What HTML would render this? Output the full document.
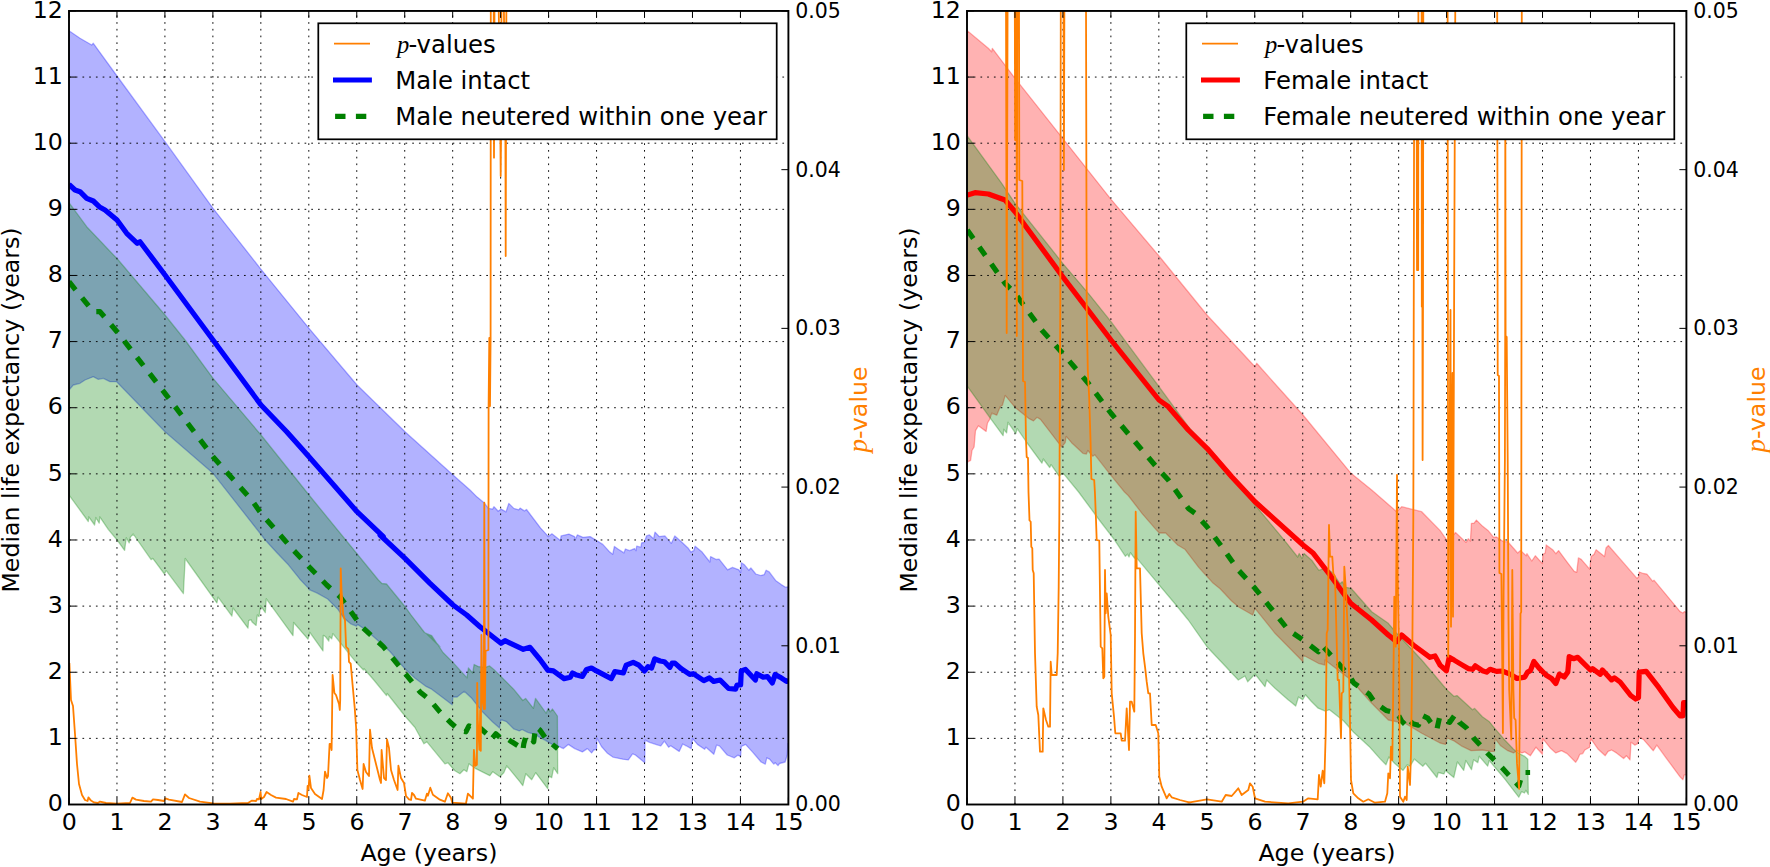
<!DOCTYPE html>
<html lang="en"><head><meta charset="utf-8"><title>Median life expectancy by age</title>
<style>
html,body{margin:0;padding:0;background:#fff;}
body{width:1770px;height:867px;overflow:hidden;}
svg{display:block;}
svg text{font-family:"DejaVu Sans","Liberation Sans",sans-serif;}
</style></head><body>
<svg width="1770" height="867" viewBox="0 0 1770 867" font-size="23.7" fill="#000">
<rect width="1770" height="867" fill="#fff"/>
<clipPath id="c1"><rect x="69.0" y="10.95" width="719.4" height="793.55"/></clipPath>
<g clip-path="url(#c1)">
<path d="M69.0,30.7 L80.0,38.3 L91.7,45.0 L93.3,43.3 L117.0,76.0 L165.0,141.7 L213.0,208.3 L261.0,269.3 L309.0,328.3 L357.0,385.0 L405.0,431.7 L453.0,475.0 L470.0,490.0 L477.1,497.1 L484.1,502.7 L488.4,508.4 L492.6,509.1 L494.0,506.7 L498.2,511.2 L501.1,509.1 L506.0,511.9 L508.8,503.4 L513.8,508.4 L518.7,509.8 L520.1,508.1 L524.4,510.9 L526.5,509.5 L540.6,528.1 L548.4,536.6 L551.9,533.8 L560.4,540.6 L561.1,535.9 L568.9,534.1 L574.5,536.6 L575.2,539.4 L577.3,534.9 L583.0,537.3 L590.1,536.6 L597.1,540.9 L602.8,544.4 L609.8,552.1 L612.7,554.3 L614.4,546.5 L618.3,549.3 L624.0,552.9 L625.4,549.0 L629.6,550.7 L634.5,548.6 L636.0,550.7 L636.7,546.2 L640.9,547.2 L641.6,543.0 L644.4,542.3 L646.5,535.9 L649.4,534.9 L653.6,538.7 L655.0,532.1 L659.3,536.6 L664.9,535.9 L671.3,543.4 L674.8,535.9 L681.9,542.3 L688.0,547.9 L690.9,552.1 L693.7,550.7 L695.1,546.2 L702.1,552.1 L709.9,562.0 L710.6,556.7 L716.3,559.5 L719.1,559.2 L727.6,569.8 L732.5,567.4 L738.9,569.8 L740.6,572.6 L741.4,562.7 L744.5,564.9 L748.8,570.2 L750.9,568.0 L755.8,574.0 L760.8,575.5 L764.3,574.5 L766.1,570.2 L769.2,571.9 L775.6,580.4 L781.2,584.6 L785.5,587.2 L789.7,586.8 L790.8,743.7 L787.9,743.7 L787.2,755.0 L785.1,762.0 L779.5,763.5 L778.0,765.6 L775.2,762.7 L773.8,764.1 L769.6,759.2 L766.8,757.8 L765.3,764.1 L761.1,762.0 L752.6,752.1 L745.6,744.4 L741.3,746.5 L740.6,756.4 L737.8,755.2 L734.3,757.8 L727.2,755.0 L719.4,745.8 L716.6,745.1 L713.8,754.3 L706.0,747.2 L704.6,749.3 L697.5,744.4 L692.6,738.7 L691.2,748.6 L686.2,745.8 L682.7,744.0 L679.2,751.4 L670.7,745.8 L668.6,747.2 L664.4,741.1 L660.8,745.8 L658.0,745.1 L649.5,742.3 L645.0,740.1 L644.7,762.7 L643.9,762.0 L635.4,755.0 L632.6,753.8 L628.3,759.9 L622.7,759.2 L612.8,757.1 L607.1,752.9 L601.5,746.5 L596.8,738.0 L596.5,749.3 L593.7,750.0 L591.6,752.9 L587.4,748.6 L582.4,751.9 L574.7,748.6 L568.3,744.4 L563.4,748.6 L557.7,745.8 L552.1,744.4 L545.0,740.1 L541.9,738.6 L534.8,734.4 L527.7,732.3 L522.1,729.5 L519.3,730.9 L513.6,728.8 L506.6,721.7 L500.9,719.6 L499.5,728.0 L492.4,721.7 L482.5,711.8 L471.2,697.7 L464.2,691.3 L457.1,697.0 L452.9,697.0 L452.2,704.8 L443.0,697.7 L431.7,689.2 L426.1,686.4 L414.8,677.9 L404.9,668.8 L389.9,651.5 L378.4,641.1 L366.9,630.8 L357.6,624.4 L356.5,626.1 L350.7,623.8 L343.8,618.1 L338.0,609.4 L327.7,599.0 L317.2,593.1 L309.2,589.6 L308.6,588.4 L299.9,579.2 L288.4,564.8 L276.9,552.7 L265.3,540.0 L213.0,473.3 L165.0,431.7 L116.7,381.7 L110.0,381.7 L103.3,378.3 L98.3,379.3 L93.3,376.7 L85.0,380.0 L80.0,383.3 L73.3,385.0 L69.0,390.0Z" fill="#0000ff" fill-opacity="0.3" stroke="#0000ff" stroke-opacity="0.3" stroke-width="1.3" stroke-linejoin="round"/>
<path d="M69.0,202.7 L86.7,226.7 L118.3,260.0 L165.0,315.0 L185.0,340.0 L213.0,378.3 L261.0,435.0 L309.0,495.0 L378.4,580.0 L381.9,583.5 L386.5,584.0 L404.9,606.5 L410.7,614.6 L424.5,632.5 L430.3,635.4 L440.0,646.9 L426.1,633.4 L431.7,635.5 L443.0,652.5 L452.9,662.4 L467.0,677.9 L468.4,668.0 L472.7,673.0 L474.1,664.5 L478.3,666.6 L485.4,667.3 L489.6,665.9 L493.8,669.4 L500.9,676.5 L513.6,689.2 L522.8,700.5 L525.6,698.4 L533.4,708.3 L535.5,698.4 L546.1,713.2 L548.2,708.3 L550.3,711.8 L552.5,709.0 L557.4,716.0 L557.7,773.7 L553.7,767.7 L551.7,777.7 L548.7,775.7 L547.7,788.7 L535.7,772.7 L531.7,779.7 L525.8,773.7 L522.8,785.7 L519.8,781.7 L506.8,765.8 L503.8,772.7 L499.8,776.7 L492.8,771.7 L489.8,775.7 L483.8,772.7 L475.9,768.7 L468.9,763.8 L466.9,771.7 L463.9,769.7 L459.9,773.7 L454.9,770.7 L447.9,762.8 L444.9,763.8 L426.9,741.8 L423.9,743.8 L414.8,727.3 L404.9,716.0 L387.2,693.5 L386.5,695.6 L373.8,680.0 L364.0,668.8 L363.4,670.0 L355.3,661.3 L332.9,633.6 L331.7,638.8 L329.4,636.5 L328.8,641.1 L325.4,636.5 L323.3,635.4 L323.0,650.9 L309.8,632.3 L308.0,639.2 L293.6,622.5 L293.0,635.7 L266.3,598.8 L265.3,612.7 L260.7,605.7 L259.0,616.7 L257.3,615.0 L256.1,625.4 L252.1,621.9 L250.9,619.6 L248.6,620.7 L248.0,628.2 L233.0,608.0 L231.9,616.1 L218.1,597.1 L216.9,602.9 L185.2,558.5 L183.4,593.6 L166.2,570.6 L164.4,574.0 L152.8,558.4 L151.1,559.6 L133.2,534.0 L130.4,537.1 L129.2,542.9 L126.3,537.7 L124.6,550.4 L117.1,540.0 L108.4,529.6 L99.8,516.9 L99.2,523.2 L95.8,517.5 L94.6,525.0 L88.8,516.9 L88.3,521.5 L69.8,496.1 L69.0,495.0Z" fill="#008000" fill-opacity="0.3" stroke="#008000" stroke-opacity="0.3" stroke-width="1.3" stroke-linejoin="round"/>
<path d="M116.96,804.5V10.95M164.92,804.5V10.95M212.88,804.5V10.95M260.84,804.5V10.95M308.8,804.5V10.95M356.76,804.5V10.95M404.72,804.5V10.95M452.68,804.5V10.95M500.64,804.5V10.95M548.6,804.5V10.95M596.56,804.5V10.95M644.52,804.5V10.95M692.48,804.5V10.95M740.44,804.5V10.95M69.0,738.37H788.40M69.0,672.24H788.40M69.0,606.11H788.40M69.0,539.98H788.40M69.0,473.85H788.40M69.0,407.72H788.40M69.0,341.59H788.40M69.0,275.46H788.40M69.0,209.33H788.40M69.0,143.20H788.40M69.0,77.07H788.40" fill="none" stroke="#000" stroke-width="0.95" stroke-dasharray="1.7 5.03"/>
<path d="M69.0,184.3 L75.0,190.0 L80.0,191.7 L86.7,198.3 L93.3,201.0 L100.0,207.3 L105.0,210.0 L117.0,220.0 L126.7,233.3 L137.3,243.3 L140.0,241.7 L165.0,275.0 L213.0,340.0 L261.0,405.0 L286.7,431.7 L309.0,456.7 L357.0,511.7 L383.3,536.7 L380.0,535.0 L405.0,558.3 L430.0,583.3 L453.0,605.0 L466.7,615.0 L480.0,626.7 L501.0,643.3 L505.0,640.7 L523.3,649.3 L530.0,647.3 L540.0,659.5 L547.8,670.1 L553.4,670.9 L564.0,678.6 L570.4,677.2 L572.5,673.0 L576.7,675.1 L582.4,676.5 L586.6,669.4 L591.5,668.0 L596.5,670.9 L611.3,678.6 L614.9,671.5 L623.3,673.0 L626.2,665.2 L633.2,662.4 L638.9,665.2 L644.5,670.9 L648.0,666.6 L651.6,668.0 L654.7,658.8 L660.1,661.0 L664.3,661.7 L669.9,667.3 L672.1,663.1 L674.9,663.1 L681.2,668.7 L689.7,674.4 L693.2,673.7 L703.8,680.7 L709.5,677.9 L713.7,681.4 L720.1,680.0 L728.6,688.5 L735.6,689.2 L737.0,685.0 L740.6,685.0 L741.3,670.9 L745.5,669.4 L755.4,680.0 L756.8,673.7 L763.2,677.2 L767.4,676.5 L772.3,682.9 L775.2,674.4 L780.1,677.2 L786.5,681.4 L791.4,680.0" fill="none" stroke="#0000ff" stroke-width="5.2" stroke-linejoin="round"/>
<path d="M69.0,281.7 L93.3,311.7 L100.0,311.7 L117.0,331.7 L165.0,393.3 L213.0,456.7 L251.7,500.0 L261.0,513.3 L293.3,550.0 L309.0,566.7 L326.7,585.0 L340.0,596.7 L361.7,626.7 L383.3,646.7 L405.0,673.3 L420.0,691.9 L429.9,699.9 L439.9,711.9 L451.9,723.8 L459.9,730.8 L465.9,731.8 L468.9,725.8 L473.9,727.8 L475.9,724.8 L479.8,727.8 L487.8,734.8 L490.8,739.8 L495.8,733.8 L501.8,738.8 L505.8,737.8 L511.8,741.8 L519.8,746.8 L522.8,750.8 L523.8,743.8 L525.8,736.8 L529.7,735.8 L533.7,741.8 L535.7,726.8 L539.7,729.8 L546.7,739.8 L551.7,743.8 L557.7,748.8" fill="none" stroke="#008000" stroke-width="5.2" stroke-dasharray="10.4 10.4" stroke-linejoin="round"/>
<path d="M69.4,663.0 L71.0,700.0 L73.0,706.0 L75.0,734.0 L77.0,764.0 L79.0,784.0 L82.0,795.0 L85.0,800.0 L87.6,801.0 L88.4,797.4 L91.0,800.6 L94.0,802.4 L98.0,803.0 L100.0,801.6 L106.0,803.0 L117.0,803.6 L130.0,803.0 L132.4,797.6 L136.0,799.6 L144.0,801.0 L151.0,801.6 L153.0,799.4 L158.0,800.0 L164.0,801.0 L165.4,798.4 L169.0,799.6 L182.0,802.0 L185.0,794.4 L189.0,798.0 L200.0,801.6 L213.0,803.4 L230.0,803.6 L248.0,803.0 L252.0,800.6 L256.0,801.0 L257.0,799.0 L259.0,799.4 L260.6,792.0 L261.2,799.0 L264.0,797.0 L266.6,792.0 L271.0,795.0 L276.0,797.6 L286.0,799.0 L293.0,801.6 L294.0,799.0 L297.0,799.4 L298.4,793.0 L302.0,795.0 L307.0,797.0 L307.6,786.0 L308.6,789.0 L309.4,775.6 L311.0,788.0 L315.0,794.0 L322.0,799.0 L323.6,790.0 L325.0,771.6 L327.0,778.0 L328.0,776.0 L329.6,744.0 L330.6,744.0 L331.6,750.0 L332.6,675.0 L334.4,693.0 L336.0,695.0 L339.0,704.0 L339.8,710.0 L340.2,700.0 L340.7,568.3 L341.5,590.0 L343.2,614.6 L345.0,620.4 L346.1,646.9 L348.4,649.2 L349.0,661.9 L350.7,663.6 L352.6,685.0 L354.7,707.6 L356.1,727.3 L357.4,770.0 L360.0,780.0 L362.6,789.0 L363.6,764.0 L366.0,772.0 L369.0,776.0 L370.0,729.6 L372.0,748.0 L376.0,764.0 L380.0,780.0 L381.0,783.0 L381.6,750.0 L384.0,778.0 L386.0,780.0 L387.0,739.4 L389.0,748.0 L391.0,770.0 L394.0,780.0 L397.6,790.0 L398.4,765.6 L401.0,778.0 L404.0,783.0 L406.0,796.0 L409.0,799.4 L411.0,800.0 L412.0,793.0 L414.0,795.0 L416.0,798.7 L424.9,800.7 L426.9,793.7 L427.9,795.7 L430.3,787.7 L432.9,794.7 L439.9,799.7 L444.9,801.7 L447.9,793.3 L450.9,797.7 L452.3,802.7 L465.9,803.7 L467.9,793.7 L470.9,796.7 L472.9,798.7 L473.9,749.8 L475.4,765.8 L476.9,764.8 L477.2,682.9 L477.8,719.8 L479.4,749.8 L480.2,709.9 L480.8,750.8 L481.4,635.0 L482.5,700.0 L483.8,709.0 L484.3,502.7 L484.9,709.0 L485.6,651.0 L488.4,650.0 L488.6,406.0 L489.3,338.0 L490.0,406.0 L490.6,338.0 L490.8,0.0 L493.7,0.0 L494.0,157.7 L494.5,0.0 L498.6,0.0 L500.4,139.0 L500.7,176.0 L501.0,139.0 L501.5,0.0 L503.8,0.0 L505.4,139.0 L505.7,256.0 L506.0,139.0 L506.4,0.0" fill="none" stroke="#ff7f00" stroke-width="1.8" stroke-linejoin="round"/>
</g>
<path d="M69.0,804.5v-7M69.0,10.95v7M116.96,804.5v-7M116.96,10.95v7M164.92,804.5v-7M164.92,10.95v7M212.88,804.5v-7M212.88,10.95v7M260.84,804.5v-7M260.84,10.95v7M308.8,804.5v-7M308.8,10.95v7M356.76,804.5v-7M356.76,10.95v7M404.72,804.5v-7M404.72,10.95v7M452.68,804.5v-7M452.68,10.95v7M500.64,804.5v-7M500.64,10.95v7M548.6,804.5v-7M548.6,10.95v7M596.56,804.5v-7M596.56,10.95v7M644.52,804.5v-7M644.52,10.95v7M692.48,804.5v-7M692.48,10.95v7M740.44,804.5v-7M740.44,10.95v7M788.4,804.5v-7M788.4,10.95v7M69.0,804.50h7M69.0,738.37h7M69.0,672.24h7M69.0,606.11h7M69.0,539.98h7M69.0,473.85h7M69.0,407.72h7M69.0,341.59h7M69.0,275.46h7M69.0,209.33h7M69.0,143.20h7M69.0,77.07h7M69.0,10.94h7M788.40,804.50h-7M788.40,645.79h-7M788.40,487.08h-7M788.40,328.37h-7M788.40,169.66h-7M788.40,10.95h-7" fill="none" stroke="#000" stroke-width="1.0"/>
<rect x="69.0" y="10.95" width="719.40" height="793.55" fill="none" stroke="#000" stroke-width="1.9"/>
<rect x="318.3" y="23.3" width="458.4" height="116" fill="#fff" stroke="#000" stroke-width="1.73"/>
<path d="M334.0,43.7H370.0" stroke="#ff7f00" stroke-width="1.8" fill="none"/>
<path d="M333.0,80H371.9" stroke="#0000ff" stroke-width="5.2" fill="none"/>
<path d="M335.1,116.3H370.0" stroke="#008000" stroke-width="5.2" stroke-dasharray="10.4 10.4" fill="none"/>
<g font-size="24.3">
<text x="397.1" y="52.7" style="font-family:'Liberation Serif','DejaVu Serif',serif;font-style:italic" font-size="24.5">p</text>
<text x="408.5" y="52.7">-values</text>
<text x="395.3" y="89">Male intact</text>
<text x="395.3" y="125.3">Male neutered within one year</text>
</g>
<text x="69.20" y="830" text-anchor="middle">0</text>
<text x="117.16" y="830" text-anchor="middle">1</text>
<text x="165.12" y="830" text-anchor="middle">2</text>
<text x="213.08" y="830" text-anchor="middle">3</text>
<text x="261.04" y="830" text-anchor="middle">4</text>
<text x="309.00" y="830" text-anchor="middle">5</text>
<text x="356.96" y="830" text-anchor="middle">6</text>
<text x="404.92" y="830" text-anchor="middle">7</text>
<text x="452.88" y="830" text-anchor="middle">8</text>
<text x="500.84" y="830" text-anchor="middle">9</text>
<text x="548.80" y="830" text-anchor="middle">10</text>
<text x="596.76" y="830" text-anchor="middle">11</text>
<text x="644.72" y="830" text-anchor="middle">12</text>
<text x="692.68" y="830" text-anchor="middle">13</text>
<text x="740.64" y="830" text-anchor="middle">14</text>
<text x="788.60" y="830" text-anchor="middle">15</text>
<text x="62.8" y="811.1" text-anchor="end">0</text>
<text x="62.8" y="745.0" text-anchor="end">1</text>
<text x="62.8" y="678.8" text-anchor="end">2</text>
<text x="62.8" y="612.7" text-anchor="end">3</text>
<text x="62.8" y="546.6" text-anchor="end">4</text>
<text x="62.8" y="480.5" text-anchor="end">5</text>
<text x="62.8" y="414.3" text-anchor="end">6</text>
<text x="62.8" y="348.2" text-anchor="end">7</text>
<text x="62.8" y="282.1" text-anchor="end">8</text>
<text x="62.8" y="215.9" text-anchor="end">9</text>
<text x="62.8" y="149.8" text-anchor="end">10</text>
<text x="62.8" y="83.7" text-anchor="end">11</text>
<text x="62.8" y="17.5" text-anchor="end">12</text>
<text x="795.2" y="811.4" font-size="20.5">0.00</text>
<text x="795.2" y="652.7" font-size="20.5">0.01</text>
<text x="795.2" y="494.0" font-size="20.5">0.02</text>
<text x="795.2" y="335.3" font-size="20.5">0.03</text>
<text x="795.2" y="176.6" font-size="20.5">0.04</text>
<text x="795.2" y="17.8" font-size="20.5">0.05</text>
<text x="428.9" y="861" text-anchor="middle">Age (years)</text>
<text transform="translate(19.0,410) rotate(-90)" text-anchor="middle">Median life expectancy (years)</text>
<text transform="translate(867.3,409.5) rotate(-90)" text-anchor="middle" fill="#ff7f00"><tspan font-family="'Liberation Serif','DejaVu Serif',serif" font-style="italic" font-size="27">p</tspan>-value</text>
<clipPath id="c2"><rect x="967.0" y="10.95" width="719.4" height="793.55"/></clipPath>
<g clip-path="url(#c2)">
<path d="M967.3,30.7 L988.3,48.3 L991.7,51.7 L992.3,48.3 L1015.0,78.3 L1062.7,138.3 L1111.0,199.3 L1159.0,256.0 L1207.0,315.0 L1255.0,366.7 L1256.7,363.3 L1303.0,415.0 L1351.0,473.3 L1371.7,490.0 L1396.7,511.7 L1401.7,506.7 L1421.7,511.7 L1440.0,530.4 L1446.4,539.5 L1448.5,541.0 L1455.5,532.5 L1466.1,542.4 L1468.2,538.8 L1470.4,541.0 L1471.4,523.3 L1473.9,523.3 L1476.4,520.1 L1482.4,526.1 L1488.0,530.4 L1493.7,537.4 L1496.5,537.0 L1503.6,541.7 L1507.8,541.7 L1517.7,553.0 L1520.5,550.6 L1526.2,555.8 L1526.9,553.7 L1531.8,561.0 L1535.3,555.8 L1542.4,563.6 L1542.8,554.4 L1545.2,553.0 L1546.2,544.9 L1553.0,550.1 L1555.8,553.7 L1558.6,550.6 L1567.1,562.1 L1574.2,571.3 L1576.7,572.3 L1578.4,557.9 L1581.2,559.3 L1589.7,569.2 L1591.1,556.5 L1594.0,554.4 L1596.1,549.7 L1604.5,556.5 L1606.0,548.0 L1608.4,545.5 L1623.6,562.9 L1637.0,578.4 L1638.5,577.0 L1639.2,572.0 L1643.4,573.5 L1646.9,574.1 L1652.6,581.2 L1654.0,580.2 L1666.0,594.6 L1680.1,611.6 L1682.9,613.0 L1684.3,611.6 L1688.6,613.0 L1688.6,774.8 L1684.3,774.8 L1682.9,779.7 L1680.1,776.9 L1666.0,757.8 L1656.8,745.1 L1653.3,750.7 L1643.4,739.4 L1639.2,737.3 L1637.7,743.7 L1634.9,745.1 L1631.0,742.3 L1630.0,759.9 L1626.4,755.7 L1623.6,758.5 L1616.5,752.9 L1611.6,750.0 L1608.1,751.4 L1605.2,755.7 L1598.2,749.3 L1590.8,738.7 L1589.7,747.2 L1584.8,750.0 L1582.7,753.6 L1579.8,754.3 L1577.7,759.2 L1575.6,762.3 L1567.1,753.6 L1561.5,750.7 L1555.8,752.9 L1550.2,747.9 L1542.8,738.7 L1542.4,754.3 L1536.0,747.2 L1530.4,755.7 L1524.8,751.9 L1521.9,752.9 L1517.0,750.7 L1513.5,752.9 L1507.8,750.7 L1500.7,745.8 L1495.1,738.7 L1494.4,751.4 L1490.8,751.4 L1482.4,750.0 L1471.1,750.7 L1461.2,745.8 L1454.1,740.9 L1447.1,738.0 L1445.7,744.4 L1440.0,743.0 L1421.7,733.3 L1405.0,723.3 L1388.3,720.0 L1371.7,703.3 L1351.0,680.0 L1325.0,660.0 L1325.0,665.0 L1318.3,663.3 L1303.0,655.0 L1303.0,661.7 L1275.0,633.3 L1255.0,608.3 L1252.7,615.0 L1238.3,606.7 L1231.4,600.8 L1220.1,588.8 L1213.0,583.1 L1207.3,576.8 L1198.9,567.6 L1184.8,549.2 L1177.7,545.0 L1165.7,533.0 L1159.3,533.0 L1156.5,530.1 L1142.4,513.9 L1128.2,495.5 L1124.5,492.0 L1109.7,473.8 L1094.9,454.8 L1092.8,456.2 L1087.8,450.5 L1086.4,454.0 L1082.9,453.3 L1071.6,442.7 L1066.2,436.4 L1065.2,442.7 L1061.7,447.0 L1058.9,443.4 L1040.5,419.4 L1037.0,417.3 L1033.5,420.9 L1029.2,418.7 L1026.4,416.6 L1015.1,407.4 L1005.2,395.4 L1002.4,405.3 L1000.2,406.7 L996.7,415.2 L991.8,413.1 L989.7,419.4 L987.5,423.0 L986.1,431.4 L978.4,425.8 L975.5,430.7 L974.1,447.0 L972.0,450.5 L970.6,460.4 L967.8,461.8 L967.0,462.0Z" fill="#ff0000" fill-opacity="0.3" stroke="#ff0000" stroke-opacity="0.3" stroke-width="1.3" stroke-linejoin="round"/>
<path d="M967.3,136.0 L1001.7,183.3 L1015.0,203.3 L1062.7,263.3 L1088.3,293.3 L1111.0,321.7 L1159.0,386.7 L1188.3,426.7 L1207.0,446.7 L1231.7,475.0 L1255.4,505.4 L1269.5,522.4 L1283.6,539.3 L1297.7,557.0 L1299.2,553.5 L1302.0,558.4 L1304.1,553.5 L1311.9,560.5 L1318.9,570.4 L1326.0,567.6 L1333.0,573.2 L1340.1,583.8 L1342.2,581.7 L1345.8,587.3 L1351.0,588.3 L1371.7,611.7 L1388.3,623.3 L1396.7,633.3 L1421.7,660.0 L1447.0,690.0 L1454.1,696.4 L1457.0,695.6 L1472.5,709.8 L1474.6,708.4 L1482.4,716.8 L1489.4,721.8 L1495.1,728.8 L1503.6,738.7 L1513.5,749.3 L1519.1,753.6 L1524.8,756.4 L1527.8,759.2 L1528.3,794.4 L1525.9,790.2 L1524.5,793.0 L1521.6,791.6 L1518.8,797.2 L1504.7,778.9 L1489.2,760.5 L1487.7,766.2 L1479.3,756.3 L1477.8,762.6 L1473.6,759.8 L1471.5,769.7 L1465.8,760.5 L1463.7,770.4 L1457.4,761.9 L1453.8,777.5 L1445.4,770.4 L1444.0,773.9 L1438.3,772.5 L1436.9,777.5 L1425.6,763.3 L1422.8,766.2 L1414.3,759.1 L1410.1,766.2 L1407.2,764.8 L1403.0,770.4 L1394.5,763.3 L1388.9,757.0 L1386.0,764.8 L1380.4,759.1 L1369.1,746.4 L1353.6,732.3 L1343.7,721.0 L1329.5,709.7 L1325.3,711.1 L1318.2,708.2 L1311.2,701.2 L1305.5,694.8 L1302.7,699.8 L1298.5,697.0 L1295.7,706.1 L1290.0,701.2 L1288.3,700.0 L1275.0,688.3 L1266.7,680.0 L1265.0,686.7 L1255.0,674.0 L1247.7,681.7 L1245.0,676.0 L1238.3,680.0 L1207.0,646.7 L1188.3,620.0 L1173.5,602.0 L1159.3,585.2 L1142.4,564.8 L1135.3,556.3 L1134.6,558.4 L1130.4,552.7 L1129.0,557.0 L1127.5,554.1 L1125.4,556.3 L1114.1,539.3 L1100.0,521.0 L1078.6,492.0 L1063.1,473.1 L1058.9,475.9 L1051.1,464.6 L1049.7,467.5 L1043.3,459.0 L1041.9,463.2 L1026.4,442.0 L1017.2,428.6 L1015.8,433.6 L1008.0,422.3 L1006.6,432.9 L1003.8,429.3 L1003.1,435.7 L989.7,417.3 L967.8,386.9 L967.0,386.0Z" fill="#008000" fill-opacity="0.3" stroke="#008000" stroke-opacity="0.3" stroke-width="1.3" stroke-linejoin="round"/>
<path d="M1014.96,804.5V10.95M1062.92,804.5V10.95M1110.88,804.5V10.95M1158.84,804.5V10.95M1206.8,804.5V10.95M1254.76,804.5V10.95M1302.72,804.5V10.95M1350.68,804.5V10.95M1398.64,804.5V10.95M1446.6,804.5V10.95M1494.56,804.5V10.95M1542.52,804.5V10.95M1590.48,804.5V10.95M1638.44,804.5V10.95M967.0,738.37H1686.40M967.0,672.24H1686.40M967.0,606.11H1686.40M967.0,539.98H1686.40M967.0,473.85H1686.40M967.0,407.72H1686.40M967.0,341.59H1686.40M967.0,275.46H1686.40M967.0,209.33H1686.40M967.0,143.20H1686.40M967.0,77.07H1686.40" fill="none" stroke="#000" stroke-width="0.95" stroke-dasharray="1.7 5.03"/>
<path d="M967.3,195.0 L975.0,192.7 L988.3,194.0 L1005.0,200.0 L1015.0,211.7 L1062.7,276.7 L1111.0,340.0 L1159.0,400.0 L1168.3,406.7 L1188.3,430.0 L1207.0,448.3 L1231.7,476.7 L1255.0,501.7 L1303.0,545.0 L1313.3,553.3 L1330.0,575.0 L1350.7,603.3 L1371.7,620.0 L1388.3,635.0 L1396.7,641.7 L1401.7,635.0 L1413.3,645.0 L1430.0,657.3 L1435.0,656.0 L1440.0,665.1 L1446.4,670.7 L1449.2,657.3 L1454.1,660.1 L1461.2,664.4 L1468.2,668.6 L1472.5,669.3 L1475.3,665.8 L1482.4,670.7 L1486.6,672.1 L1490.1,669.3 L1496.5,671.4 L1502.2,671.0 L1510.6,674.3 L1517.0,678.5 L1524.8,677.1 L1527.6,672.1 L1530.4,670.7 L1533.9,661.5 L1538.9,667.9 L1545.9,675.0 L1551.6,678.5 L1555.8,683.5 L1559.3,674.3 L1564.3,677.1 L1567.8,672.1 L1569.2,656.6 L1573.5,658.7 L1577.7,657.3 L1581.2,660.9 L1590.4,670.0 L1592.5,668.6 L1600.3,674.3 L1602.4,670.0 L1611.6,679.9 L1614.4,677.8 L1620.1,682.0 L1630.7,695.5 L1635.6,699.0 L1638.5,697.6 L1639.2,672.1 L1646.2,671.4 L1658.9,687.7 L1673.0,707.5 L1680.1,715.9 L1682.9,715.9 L1683.6,702.5 L1688.6,702.5" fill="none" stroke="#ff0000" stroke-width="5.2" stroke-linejoin="round"/>
<path d="M967.3,230.0 L1005.0,283.3 L1015.0,293.3 L1041.7,330.0 L1062.7,353.3 L1088.3,383.3 L1111.0,413.3 L1135.0,441.7 L1159.0,470.0 L1168.3,480.0 L1188.3,508.3 L1195.0,513.3 L1207.0,526.7 L1221.7,546.7 L1238.3,570.0 L1255.0,588.3 L1275.0,613.3 L1288.3,630.0 L1303.0,640.0 L1318.3,651.7 L1321.7,645.0 L1338.3,663.3 L1351.0,678.3 L1353.6,682.8 L1369.1,694.1 L1374.8,702.6 L1386.0,710.4 L1397.3,713.2 L1401.6,721.0 L1407.2,726.6 L1410.1,721.0 L1412.9,723.8 L1418.5,725.2 L1422.1,715.3 L1427.7,718.1 L1432.7,725.2 L1436.9,729.4 L1439.7,716.7 L1445.4,721.0 L1449.6,722.4 L1455.2,714.6 L1459.5,722.4 L1466.5,728.0 L1473.6,737.9 L1487.7,753.5 L1501.9,767.6 L1518.8,785.9 L1521.6,776.0 L1523.0,772.5 L1530.1,772.5" fill="none" stroke="#008000" stroke-width="5.2" stroke-dasharray="10.4 10.4" stroke-linejoin="round"/>
<path d="M1006.0,0.0 L1006.7,333.0 L1007.6,0.0" fill="none" stroke="#ff7f00" stroke-width="1.8" stroke-linejoin="round"/>
<path d="M1014.8,0.0 L1015.1,140.0 L1015.6,0.0 L1016.5,0.0 L1016.8,336.0 L1017.3,0.0 L1019.0,0.0 L1019.3,180.0 L1022.3,181.0 L1023.0,381.0 L1025.0,382.0 L1026.0,440.0 L1026.7,457.0 L1028.0,458.0 L1028.5,492.0 L1029.5,520.0 L1029.3,520.0 L1030.7,521.7 L1031.3,546.7 L1032.3,548.3 L1032.7,570.0 L1033.7,573.3 L1035.0,653.3 L1036.7,706.7 L1038.3,715.0 L1040.0,751.7 L1042.7,751.7 L1043.3,708.3 L1046.0,720.0 L1048.3,726.7 L1050.0,726.7 L1050.7,661.7 L1051.7,675.0 L1056.7,675.0 L1057.7,653.3 L1058.7,586.7 L1059.3,520.0 L1059.5,480.0 L1060.3,300.0 L1060.8,0.0 L1063.5,0.0 L1063.9,170.0 L1064.4,0.0" fill="none" stroke="#ff7f00" stroke-width="1.8" stroke-linejoin="round"/>
<path d="M1086.0,0.0 L1086.7,310.0 L1087.8,370.0 L1089.2,398.0 L1090.6,443.0 L1091.4,479.0 L1094.2,480.0 L1094.9,492.0 L1096.0,520.0 L1096.0,520.0 L1096.7,540.0 L1099.3,540.7 L1100.7,646.7 L1102.3,648.3 L1103.3,678.3 L1104.3,676.7 L1105.0,570.0 L1105.7,613.3 L1106.7,593.3 L1108.3,616.7 L1110.7,635.0 L1111.7,693.3 L1114.0,716.7 L1115.3,733.3 L1120.7,733.3 L1121.7,740.7 L1125.0,740.7 L1126.7,708.3 L1129.0,750.0 L1130.0,701.7 L1131.7,701.7 L1134.3,711.7 L1135.0,636.7 L1135.7,511.7 L1136.7,568.3 L1140.0,568.3 L1141.7,633.3 L1143.3,653.3 L1145.0,666.7 L1146.7,681.7 L1148.3,693.3 L1150.0,693.3 L1151.7,725.0 L1155.7,725.0 L1158.3,733.3 L1159.3,776.7 L1161.7,786.7 L1166.7,798.3 L1169.3,794.0 L1171.7,797.3 L1180.0,800.0 L1190.0,802.7 L1188.3,802.7 L1207.0,799.3 L1221.7,801.7 L1225.7,795.0 L1231.7,796.0 L1238.3,788.3 L1241.7,795.0 L1248.3,790.0 L1250.0,783.3 L1252.7,786.7 L1255.0,798.3 L1265.0,801.7 L1288.3,803.3 L1303.0,801.7 L1308.3,798.3 L1317.7,799.3 L1319.0,775.0 L1320.7,786.7 L1322.7,770.7 L1324.3,783.3 L1325.7,733.3 L1326.7,633.3 L1327.7,630.0 L1329.0,525.0 L1330.0,556.7 L1332.3,556.7 L1333.3,573.3 L1335.0,576.7 L1337.7,680.0 L1339.0,680.0 L1341.0,738.3 L1341.7,693.3 L1343.3,691.7 L1344.3,566.7 L1345.7,586.7 L1348.3,640.0 L1350.0,720.0 L1351.0,780.0 L1353.3,793.3 L1358.3,798.3 L1363.3,801.7 L1368.3,799.3 L1375.0,802.7 L1385.0,801.7 L1387.3,793.3 L1388.3,773.3 L1390.0,778.3 L1391.0,746.7 L1392.3,760.0 L1393.3,686.7 L1394.3,596.7 L1395.7,646.7 L1397.0,475.0 L1397.7,580.0 L1399.0,646.7 L1400.0,796.7 L1403.3,801.7 L1405.0,796.7 L1406.7,800.0 L1407.7,766.7 L1410.0,785.0 L1411.0,753.3 L1412.3,653.3 L1413.3,520.0 L1413.5,445.0 L1414.2,60.0 L1416.6,60.0 L1417.0,270.0 L1418.2,270.0 L1418.4,0.0 L1421.6,0.0 L1421.8,306.7 L1422.4,307.0 L1422.6,460.0 L1423.0,307.0 L1423.3,0.0" fill="none" stroke="#ff7f00" stroke-width="1.8" stroke-linejoin="round"/>
<path d="M1447.6,0.0 L1448.2,656.7 L1450.5,310.0 L1451.0,626.7 L1452.5,373.0 L1453.0,616.7 L1454.2,277.0 L1455.3,0.0" fill="none" stroke="#ff7f00" stroke-width="1.8" stroke-linejoin="round"/>
<path d="M1497.2,0.0 L1497.7,375.0 L1499.0,376.0 L1499.4,573.0 L1501.4,574.0 L1502.9,733.0 L1503.6,592.0 L1504.0,555.0 L1504.9,460.0 L1505.2,336.0 L1505.3,60.0 L1505.6,336.0 L1506.7,337.0 L1507.7,460.0 L1508.5,620.0 L1509.2,690.0 L1511.3,739.4 L1512.3,570.0 L1513.4,690.0 L1514.2,718.0 L1515.6,720.0 L1517.0,763.4 L1519.1,788.9 L1519.8,700.0 L1520.5,613.7 L1521.2,612.0 L1521.8,0.0" fill="none" stroke="#ff7f00" stroke-width="1.8" stroke-linejoin="round"/>
</g>
<path d="M967.0,804.5v-7M967.0,10.95v7M1014.96,804.5v-7M1014.96,10.95v7M1062.92,804.5v-7M1062.92,10.95v7M1110.88,804.5v-7M1110.88,10.95v7M1158.84,804.5v-7M1158.84,10.95v7M1206.8,804.5v-7M1206.8,10.95v7M1254.76,804.5v-7M1254.76,10.95v7M1302.72,804.5v-7M1302.72,10.95v7M1350.68,804.5v-7M1350.68,10.95v7M1398.64,804.5v-7M1398.64,10.95v7M1446.6,804.5v-7M1446.6,10.95v7M1494.56,804.5v-7M1494.56,10.95v7M1542.52,804.5v-7M1542.52,10.95v7M1590.48,804.5v-7M1590.48,10.95v7M1638.44,804.5v-7M1638.44,10.95v7M1686.4,804.5v-7M1686.4,10.95v7M967.0,804.50h7M967.0,738.37h7M967.0,672.24h7M967.0,606.11h7M967.0,539.98h7M967.0,473.85h7M967.0,407.72h7M967.0,341.59h7M967.0,275.46h7M967.0,209.33h7M967.0,143.20h7M967.0,77.07h7M967.0,10.94h7M1686.40,804.50h-7M1686.40,645.79h-7M1686.40,487.08h-7M1686.40,328.37h-7M1686.40,169.66h-7M1686.40,10.95h-7" fill="none" stroke="#000" stroke-width="1.0"/>
<rect x="967.0" y="10.95" width="719.40" height="793.55" fill="none" stroke="#000" stroke-width="1.9"/>
<rect x="1186.3" y="23.3" width="488" height="116" fill="#fff" stroke="#000" stroke-width="1.73"/>
<path d="M1202.0,43.7H1238.0" stroke="#ff7f00" stroke-width="1.8" fill="none"/>
<path d="M1201.0,80H1239.9" stroke="#ff0000" stroke-width="5.2" fill="none"/>
<path d="M1203.1,116.3H1238.0" stroke="#008000" stroke-width="5.2" stroke-dasharray="10.4 10.4" fill="none"/>
<g font-size="24.3">
<text x="1265.1" y="52.7" style="font-family:'Liberation Serif','DejaVu Serif',serif;font-style:italic" font-size="24.5">p</text>
<text x="1276.5" y="52.7">-values</text>
<text x="1263.3" y="89">Female intact</text>
<text x="1263.3" y="125.3">Female neutered within one year</text>
</g>
<text x="967.20" y="830" text-anchor="middle">0</text>
<text x="1015.16" y="830" text-anchor="middle">1</text>
<text x="1063.12" y="830" text-anchor="middle">2</text>
<text x="1111.08" y="830" text-anchor="middle">3</text>
<text x="1159.04" y="830" text-anchor="middle">4</text>
<text x="1207.00" y="830" text-anchor="middle">5</text>
<text x="1254.96" y="830" text-anchor="middle">6</text>
<text x="1302.92" y="830" text-anchor="middle">7</text>
<text x="1350.88" y="830" text-anchor="middle">8</text>
<text x="1398.84" y="830" text-anchor="middle">9</text>
<text x="1446.80" y="830" text-anchor="middle">10</text>
<text x="1494.76" y="830" text-anchor="middle">11</text>
<text x="1542.72" y="830" text-anchor="middle">12</text>
<text x="1590.68" y="830" text-anchor="middle">13</text>
<text x="1638.64" y="830" text-anchor="middle">14</text>
<text x="1686.60" y="830" text-anchor="middle">15</text>
<text x="960.8" y="811.1" text-anchor="end">0</text>
<text x="960.8" y="745.0" text-anchor="end">1</text>
<text x="960.8" y="678.8" text-anchor="end">2</text>
<text x="960.8" y="612.7" text-anchor="end">3</text>
<text x="960.8" y="546.6" text-anchor="end">4</text>
<text x="960.8" y="480.5" text-anchor="end">5</text>
<text x="960.8" y="414.3" text-anchor="end">6</text>
<text x="960.8" y="348.2" text-anchor="end">7</text>
<text x="960.8" y="282.1" text-anchor="end">8</text>
<text x="960.8" y="215.9" text-anchor="end">9</text>
<text x="960.8" y="149.8" text-anchor="end">10</text>
<text x="960.8" y="83.7" text-anchor="end">11</text>
<text x="960.8" y="17.5" text-anchor="end">12</text>
<text x="1693.2" y="811.4" font-size="20.5">0.00</text>
<text x="1693.2" y="652.7" font-size="20.5">0.01</text>
<text x="1693.2" y="494.0" font-size="20.5">0.02</text>
<text x="1693.2" y="335.3" font-size="20.5">0.03</text>
<text x="1693.2" y="176.6" font-size="20.5">0.04</text>
<text x="1693.2" y="17.8" font-size="20.5">0.05</text>
<text x="1326.9" y="861" text-anchor="middle">Age (years)</text>
<text transform="translate(917.0,410) rotate(-90)" text-anchor="middle">Median life expectancy (years)</text>
<text transform="translate(1765.3,409.5) rotate(-90)" text-anchor="middle" fill="#ff7f00"><tspan font-family="'Liberation Serif','DejaVu Serif',serif" font-style="italic" font-size="27">p</tspan>-value</text>
</svg>
</body></html>
